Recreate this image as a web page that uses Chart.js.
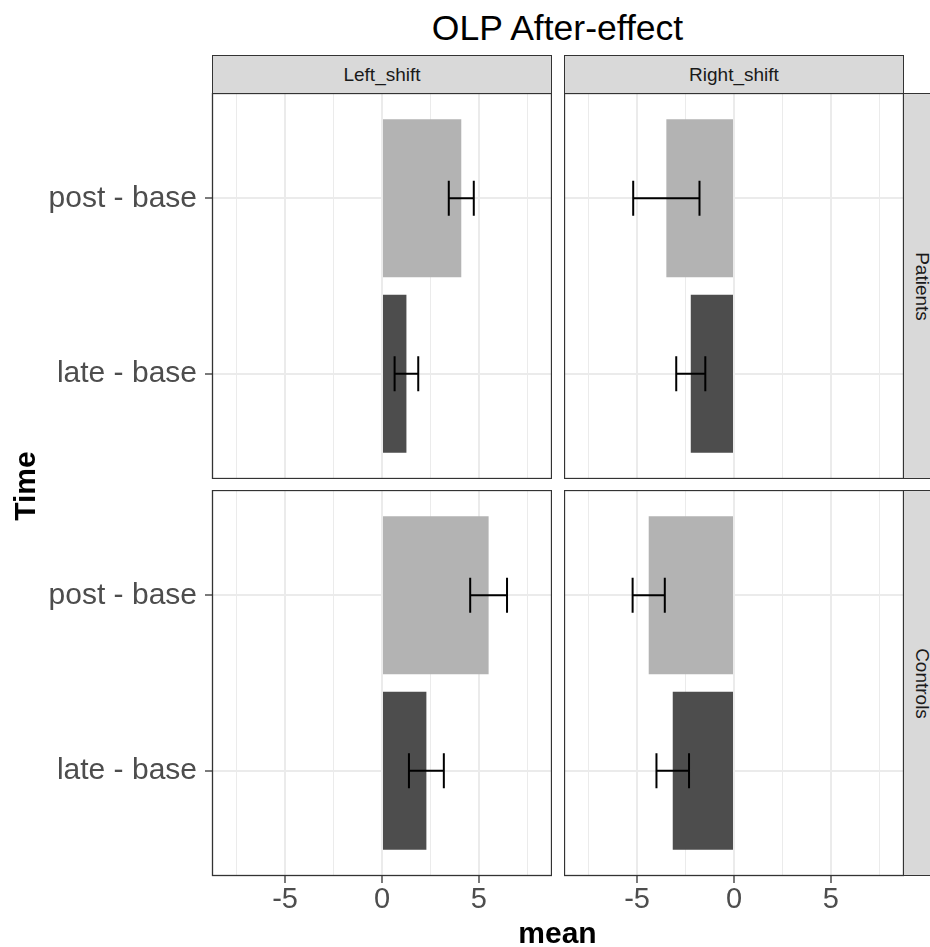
<!DOCTYPE html>
<html>
<head>
<meta charset="utf-8">
<script src="https://cdn.jsdelivr.net/npm/chart.js@4.4.1/dist/chart.umd.min.js"></script>
<style>
  html, body { margin: 0; padding: 0; background: #fff; }
  #wrap { position: relative; width: 930px; height: 947px; overflow: hidden; font-family: "Liberation Sans", Arial, sans-serif; }
  canvas { position: absolute; }
  .strip { position: absolute; background: #d9d9d9; border: 1.3px solid #333; box-sizing: border-box;
           color: #1a1a1a; font-size: 19px; line-height: 19px; display: flex; align-items: center; justify-content: center; }
  .strip span { display: block; white-space: nowrap; }
  .vert span { transform: rotate(90deg); }
  .title { position: absolute; white-space: nowrap; line-height: 1; color: #000; }
</style>
</head>
<body>
<div id="wrap">
  <div class="title" style="left:0; width:1115px; text-align:center; top:11px; font-size:35.5px;">OLP After-effect</div>
  <div class="strip" style="left:212px; top:55px; width:340px; height:39px;"><span>Left_shift</span></div>
  <div class="strip" style="left:564px; top:55px; width:340px; height:39px;"><span>Right_shift</span></div>
  <div class="strip vert" style="left:903px; top:93px; width:38px; height:386px;"><span>Patients</span></div>
  <div class="strip vert" style="left:903px; top:490px; width:38px; height:386px;"><span>Controls</span></div>

  <canvas id="pl" width="552" height="386" style="left:0; top:93px;"></canvas>
  <canvas id="pr" width="340" height="386" style="left:564px; top:93px;"></canvas>
  <canvas id="cl" width="552" height="436" style="left:0; top:490px;"></canvas>
  <canvas id="cr" width="340" height="436" style="left:564px; top:490px;"></canvas>

  <div class="title" style="left:0; width:1115px; text-align:center; top:918px; font-size:30px; font-weight:bold;">mean</div>
  <div class="title" style="left:-15px; width:80px; text-align:center; top:471px; height:30px; font-size:30px; line-height:30px; font-weight:bold; transform:rotate(-90deg);">Time</div>
</div>
<script>
const timeLabels = ['post - base', 'late - base'];
const xGridTicks = [-7.5, -5, -2.5, 0, 2.5, 5, 7.5];
const xTickLabels = [-5, 0, 5];

// mean and standard error, per panel, in timeLabels order
const patientsLeftMean = [4.09, 1.26];
const patientsLeftSe = [0.645, 0.61];
const patientsRightMean = [-3.49, -2.23];
const patientsRightSe = [1.71, 0.75];
const controlsLeftMean = [5.50, 2.29];
const controlsLeftSe = [0.95, 0.90];
const controlsRightMean = [-4.40, -3.16];
const controlsRightSe = [0.83, 0.84];

const barColors = ['#b3b3b3', '#4d4d4d'];
const xMin = -8.77, xMax = 8.77;

Chart.defaults.font.family = '"Liberation Sans", Arial, sans-serif';

const errorBars = {
    id: 'errorBars',
    afterDatasetsDraw(chart, args, opts) {
        const ctx = chart.ctx;
        const x = chart.scales.x, y = chart.scales.y;
        ctx.save();
        ctx.strokeStyle = '#000';
        ctx.lineWidth = 2;
        opts.means.forEach((m, i) => {
            const pos = timeLabels.length - i;
            const lo = x.getPixelForValue(m - opts.se[i]);
            const hi = x.getPixelForValue(m + opts.se[i]);
            const yc = y.getPixelForValue(pos);
            const y0 = y.getPixelForValue(pos + 0.1);
            const y1 = y.getPixelForValue(pos - 0.1);
            ctx.beginPath();
            ctx.moveTo(lo, yc); ctx.lineTo(hi, yc);
            ctx.moveTo(lo, y0); ctx.lineTo(lo, y1);
            ctx.moveTo(hi, y0); ctx.lineTo(hi, y1);
            ctx.stroke();
        });
        // panel border
        const a = chart.chartArea;
        ctx.strokeStyle = '#333';
        ctx.lineWidth = 1.3;
        ctx.strokeRect(a.left + 0.5, a.top + 0.5, a.right - a.left - 1, a.bottom - a.top - 1);
        ctx.restore();
    }
};

function makePanel(id, means, se, showY, showX) {
    const isMajor = c => c.tick && xTickLabels.includes(c.tick.value);
    return new Chart(document.getElementById(id), {
        type: 'bar',
        data: {
            datasets: [{
                data: means.map((m, i) => ({ x: m, y: timeLabels.length - i })),
                backgroundColor: barColors,
                barPercentage: 0.9,
                categoryPercentage: 1
            }]
        },
        options: {
            indexAxis: 'y',
            responsive: false,
            animation: false,
            layout: { padding: 0 },
            plugins: {
                legend: { display: false },
                tooltip: { enabled: false },
                errorBars: { means: means, se: se }
            },
            scales: {
                x: {
                    type: 'linear',
                    min: xMin,
                    max: xMax,
                    afterBuildTicks: s => { s.ticks = xGridTicks.map(v => ({ value: v })); },
                    afterFit: s => { s.height = showX ? 50 : 0; s.paddingLeft = 0; s.paddingRight = 0; },
                    border: { display: false },
                    grid: {
                        color: '#ebebeb',
                        lineWidth: c => isMajor(c) ? 2 : 1,
                        drawTicks: showX,
                        tickLength: 7,
                        tickWidth: 1.3,
                        tickColor: c => isMajor(c) ? '#333' : 'rgba(0,0,0,0)'
                    },
                    ticks: {
                        display: showX,
                        autoSkip: false,
                        maxRotation: 0,
                        padding: 0,
                        color: '#4d4d4d',
                        font: { size: 29 },
                        callback: v => xTickLabels.includes(v) ? String(v) : ''
                    }
                },
                y: {
                    type: 'linear',
                    min: 0.4,
                    max: 2.6,
                    offset: false,
                    afterBuildTicks: s => { s.ticks = timeLabels.map((_, i) => ({ value: timeLabels.length - i })); },
                    afterFit: s => { s.width = showY ? 212 : 0; s.paddingTop = 0; s.paddingBottom = 0; },
                    border: { display: false },
                    grid: {
                        offset: false,
                        color: '#ebebeb',
                        lineWidth: 2,
                        drawTicks: showY,
                        tickLength: 7,
                        tickWidth: 1.3,
                        tickColor: '#333'
                    },
                    ticks: {
                        display: showY,
                        padding: 8,
                        color: '#4d4d4d',
                        font: { size: 30 },
                        callback: v => timeLabels[timeLabels.length - v]
                    }
                }
            }
        },
        plugins: [errorBars]
    });
}

makePanel('pl', patientsLeftMean, patientsLeftSe, true, false);
makePanel('pr', patientsRightMean, patientsRightSe, false, false);
makePanel('cl', controlsLeftMean, controlsLeftSe, true, true);
makePanel('cr', controlsRightMean, controlsRightSe, false, true);
</script>
</body>
</html>
